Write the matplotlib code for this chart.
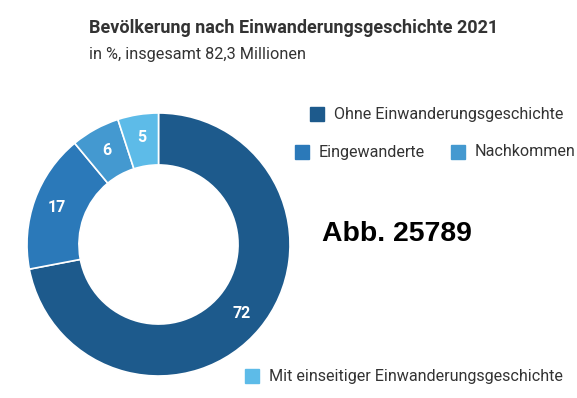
import matplotlib.pyplot as plt
from matplotlib.patches import Rectangle

# data
labels = ["Ohne Einwanderungsgeschichte", "Eingewanderte", "Nachkommen",
          "Mit einseitiger Einwanderungsgeschichte"]
values = [72, 17, 6, 5]
colors = ["#1d5a8c", "#2b79b9", "#4499d0", "#5dbbe8"]

W, H = 577, 398
fig = plt.figure(figsize=(W / 100, H / 100), dpi=100)
FONT = "Roboto"
TXT = "#333333"

def px(x, y):
    return x / W, 1 - y / H

# donut
ax = fig.add_axes([27 / W, 22 / H, 263 / W, 263 / H])
wedges, texts, autotexts = ax.pie(
    values, colors=colors, startangle=90, counterclock=False,
    radius=1, autopct=lambda p: f"{p:.0f}", pctdistance=0.82,
    wedgeprops=dict(width=0.395, edgecolor="white", linewidth=1.2),
    textprops=dict(color="white", fontsize=11.5, fontweight="bold", family=FONT),
)
ax.set_xlim(-1, 1)
ax.set_ylim(-1, 1)
ax.set_aspect("equal")
ax.axis("off")

# title
fig.text(*px(89, 28), "Bevölkerung nach Einwanderungsgeschichte 2021",
         fontsize=13, fontweight="bold", family=FONT, color=TXT, va="center")
fig.text(*px(89, 54), "in %, insgesamt 82,3 Millionen",
         fontsize=11.7, family=FONT, color=TXT, va="center")

# legend
leg_pos = [(310, 114), (295, 152), (451, 152), (245, 376)]
sq = 14
for (x, y), lab, col in zip(leg_pos, labels, colors):
    fig.patches.append(Rectangle((x / W, 1 - (y + sq / 2) / H), sq / W, sq / H,
                                 transform=fig.transFigure, color=col))
    fig.text(*px(x + 24, y), lab, fontsize=11.6, family=FONT, color=TXT, va="center")

fig.text(*px(322, 234), "Abb. 25789", fontsize=20.4, fontweight="bold",
         family="Liberation Sans", color="black", va="center")

fig.savefig("out.png", dpi=100)
